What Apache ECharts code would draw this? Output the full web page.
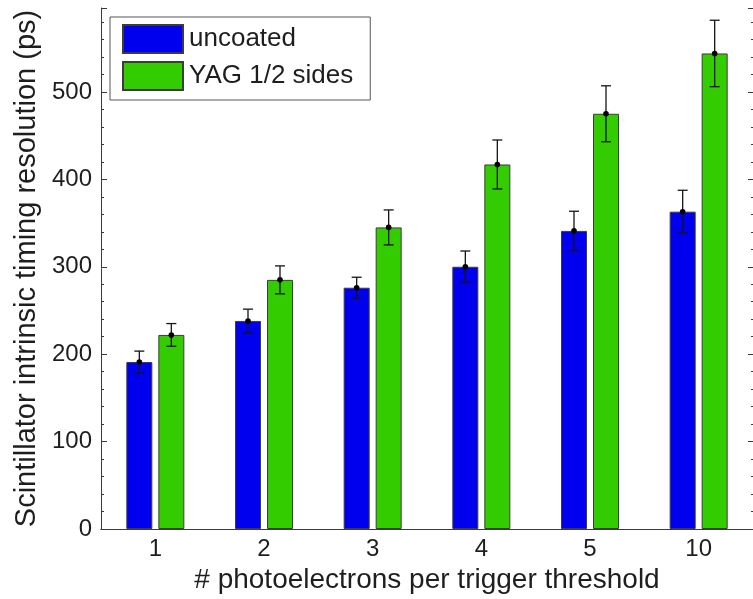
<!DOCTYPE html>
<html>
<head>
<meta charset="utf-8">
<script src="https://cdn.jsdelivr.net/npm/echarts@6/dist/echarts.min.js"></script>
<style>
  html, body { margin: 0; padding: 0; background: #fff; }
  #chart { width: 753px; height: 599px; }
</style>
</head>
<body>
<div id="chart"></div>
<script>
// Trigger thresholds (photoelectrons) on the x axis
const categories = ['1', '2', '3', '4', '5', '10'];

// Intrinsic timing resolution (ps) and its uncertainty
const uncoated    = [191, 238, 276, 300, 341, 363];
const uncoatedErr = [12.5, 13.5, 12, 18, 22.5, 24.5];
const yag         = [222, 285, 345, 417, 475, 544];
const yagErr      = [13, 16, 20, 28, 32, 38];

const yMin = 0;
const yMax = 596;
const yStep = 100;

const FONT = '"Liberation Sans", Arial, Helvetica, sans-serif';
const TEXT = '#1e1e1e';
const BAR_W = 26;
const BAR_GAP = 6;

// Error bars with a centre dot, placed over one bar of each pair
function errorSeries(name, values, errs, side) {
  const data = values.map((v, i) => [i, v, errs[i]]);
  return {
    type: 'custom',
    name: name + ' err',
    z: 5,
    silent: true,
    encode: { x: 0, y: 1 },
    data: data,
    renderItem: function (params, api) {
      const i = api.value(0), v = api.value(1), e = api.value(2);
      const mid = api.coord([i, v]);
      const hi = api.coord([i, v + e]);
      const lo = api.coord([i, v - e]);
      const x = mid[0] + side * (BAR_W + BAR_GAP) / 2;
      const cap = 5;
      const st = { stroke: '#151515', lineWidth: 1.3 };
      return {
        type: 'group',
        children: [
          { type: 'line', shape: { x1: x, y1: hi[1], x2: x, y2: lo[1] }, style: st },
          { type: 'line', shape: { x1: x - cap, y1: hi[1], x2: x + cap, y2: hi[1] }, style: st },
          { type: 'line', shape: { x1: x - cap, y1: lo[1], x2: x + cap, y2: lo[1] }, style: st },
          { type: 'circle', shape: { cx: x, cy: mid[1], r: 2.8 }, style: { fill: '#000' } }
        ]
      };
    }
  };
}

const chart = echarts.init(document.getElementById('chart'), null, { renderer: 'canvas' });

const valueAxisBase = {
  type: 'value',
  min: yMin,
  max: yMax,
  interval: yStep,
  splitLine: { show: false },
  axisLine: { show: true, lineStyle: { color: '#3a3a3a', width: 1 } },
  axisTick: { show: true, inside: true, length: 6, lineStyle: { color: '#3a3a3a' } },
  minorTick: { show: true, splitNumber: 5, length: 3, lineStyle: { color: '#3a3a3a' } }
};

chart.setOption({
  animation: false,
  backgroundColor: '#fff',
  grid: { left: 101, top: 8, width: 657, height: 521, containLabel: false },
  legend: {
    orient: 'vertical',
    left: 110,
    top: 17,
    padding: [7, 17, 9, 12],
    itemGap: 7,
    itemWidth: 60,
    itemHeight: 28,
    backgroundColor: '#fff',
    borderColor: '#555',
    borderWidth: 1,
    borderRadius: 0,
    icon: 'rect',
    data: ['uncoated', 'YAG 1/2 sides'],
    textStyle: { fontFamily: FONT, fontSize: 26, lineHeight: 28, color: TEXT, padding: [0, 0, 0, 1] }
  },
  xAxis: [
    {
      type: 'category',
      position: 'bottom',
      data: categories,
      axisLine: { lineStyle: { color: '#3a3a3a', width: 1 } },
      axisTick: { inside: true, alignWithLabel: true, length: 5, lineStyle: { color: '#8a8a8a' } },
      axisLabel: { fontFamily: FONT, fontSize: 24, color: TEXT, margin: 8 },
      name: '# photoelectrons per trigger threshold',
      nameLocation: 'middle',
      nameGap: 36,
      nameTextStyle: { fontFamily: FONT, fontSize: 28, color: TEXT }
    },
    {
      type: 'category',
      position: 'top',
      data: categories,
      axisLine: { lineStyle: { color: '#3a3a3a', width: 1 } },
      axisTick: { inside: true, alignWithLabel: true, length: 5, lineStyle: { color: '#3a3a3a' } },
      axisLabel: { show: false }
    }
  ],
  yAxis: [
    Object.assign({}, valueAxisBase, {
      position: 'left',
      axisLabel: { fontFamily: FONT, fontSize: 24, color: TEXT, margin: 9, showMaxLabel: false },
      name: 'Scintillator intrinsic timing resolution (ps)',
      nameLocation: 'middle',
      nameGap: 60,
      nameTextStyle: { fontFamily: FONT, fontSize: 29, color: TEXT }
    }),
    Object.assign({}, valueAxisBase, {
      position: 'right',
      axisTick: { show: true, inside: true, length: 5, lineStyle: { color: '#3a3a3a' } },
      minorTick: { show: true, splitNumber: 5, length: 2, lineStyle: { color: '#3a3a3a' } },
      axisLabel: { show: false }
    })
  ],
  series: [
    {
      name: 'uncoated',
      type: 'bar',
      data: uncoated,
      barWidth: BAR_W,
      barGap: (BAR_GAP / BAR_W * 100).toFixed(1) + '%',
      itemStyle: { color: '#0000ee', borderColor: '#3c3c3c', borderWidth: 1 }
    },
    {
      name: 'YAG 1/2 sides',
      type: 'bar',
      data: yag,
      barWidth: BAR_W,
      barGap: (BAR_GAP / BAR_W * 100).toFixed(1) + '%',
      itemStyle: { color: '#33cc00', borderColor: '#3c3c3c', borderWidth: 1 }
    },
    errorSeries('uncoated', uncoated, uncoatedErr, -1),
    errorSeries('YAG 1/2 sides', yag, yagErr, 1)
  ]
});
</script>
</body>
</html>
